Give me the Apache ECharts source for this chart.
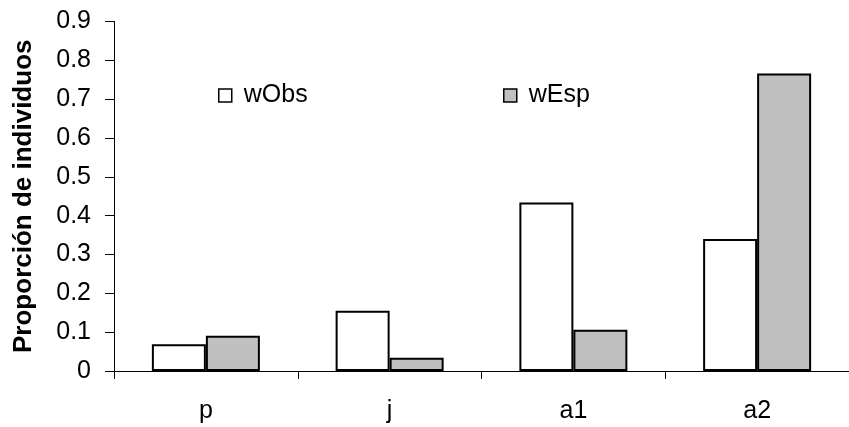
<!DOCTYPE html>
<html>
<head>
<meta charset="utf-8">
<script src="https://cdn.jsdelivr.net/npm/echarts@6/dist/echarts.min.js"></script>
<style>
html,body{margin:0;padding:0;background:#fff;}
#c{width:849px;height:427px;}
</style>
</head>
<body>
<div id="c"></div>
<script>
var categories = ['p', 'j', 'a1', 'a2'];
var wObs = [0.069, 0.155, 0.434, 0.340];
var wEsp = [0.091, 0.034, 0.106, 0.766];
var yTicks = ['0', '0.1', '0.2', '0.3', '0.4', '0.5', '0.6', '0.7', '0.8', '0.9'];

var FONT = "'Liberation Sans', Arial, sans-serif";
var chart = echarts.init(document.getElementById('c'), null, {renderer: 'canvas'});
var legendBase = {
  icon: 'rect', itemWidth: 13, itemHeight: 13, top: 78, orient: 'horizontal',
  itemStyle: {borderColor: '#000', borderWidth: 1.5},
  textStyle: {fontFamily: FONT, fontSize: 25, color: '#000', padding: [0, 0, 0, 7]}
};
chart.setOption({
  animation: false,
  backgroundColor: '#ffffff',
  grid: {left: 114, right: -7, top: 21.5, bottom: 56, containLabel: false},
  legend: [
    Object.assign({}, legendBase, {data: ['wObs'], left: 213}),
    Object.assign({}, legendBase, {data: ['wEsp'], left: 498})
  ],
  xAxis: {
    type: 'category',
    data: categories,
    boundaryGap: true,
    axisLine: {lineStyle: {color: '#000', width: 1}},
    axisTick: {show: true, alignWithLabel: false, length: 8, lineStyle: {color: '#000', width: 1}},
    axisLabel: {fontFamily: FONT, fontSize: 25, color: '#000', margin: 28},
    splitLine: {show: false}
  },
  yAxis: {
    type: 'value',
    min: 0, max: 0.9, interval: 0.1,
    name: 'Proporción de individuos',
    nameLocation: 'middle',
    nameGap: 77,
    nameTextStyle: {fontFamily: FONT, fontSize: 26, fontWeight: 'bold', color: '#000'},
    axisLine: {show: true, lineStyle: {color: '#000', width: 1}},
    axisTick: {show: true, length: 9, lineStyle: {color: '#000', width: 1}},
    axisLabel: {
      fontFamily: FONT, fontSize: 25, color: '#000', margin: 23,
      formatter: function (v) { return yTicks[Math.round(v * 10)]; }
    },
    splitLine: {show: false}
  },
  series: [
    {
      name: 'wObs', type: 'bar', data: wObs, barWidth: 54, barGap: '0%',
      itemStyle: {color: '#ffffff', borderColor: '#000', borderWidth: 2}
    },
    {
      name: 'wEsp', type: 'bar', data: wEsp, barWidth: 54, barGap: '0%',
      itemStyle: {color: '#c0c0c0', borderColor: '#000', borderWidth: 2}
    }
  ]
});
</script>
</body>
</html>
